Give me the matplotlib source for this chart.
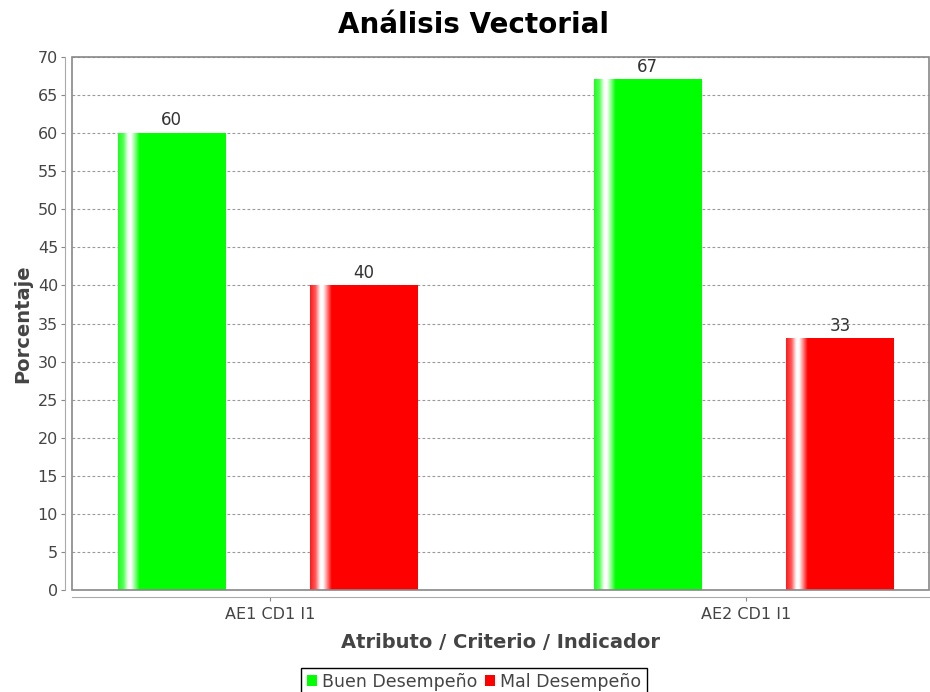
import matplotlib.pyplot as plt
import numpy as np
from matplotlib.patches import Rectangle, Patch

categories = ["AE1 CD1 I1", "AE2 CD1 I1"]
series = ["Buen Desempeño", "Mal Desempeño"]
buen = [60, 67]
mal = [40, 33]
colors = ["#00ff00", "#ff0000"]

plt.rcParams["font.family"] = "DejaVu Sans"
txt = "#444444"

fig = plt.figure(figsize=(9.3, 6.92), dpi=100)
ax = fig.add_axes([72 / 930, 1 - 590 / 692, 857 / 930, 533 / 692])

x = np.arange(len(categories))
width = 0.225
offsets = [-0.207, 0.197]

# horizontal highlight profile of the bars
t = np.linspace(0, 1, 300)
w = np.interp(t, [0, 0.05, 0.095, 0.12, 0.2, 1], [0.1, 0.35, 1, 1, 0, 0])

for vals, off, c in zip([buen, mal], offsets, colors):
    bars = ax.bar(x + off, vals, width, color=c, zorder=2)
    rgb = np.array(plt.matplotlib.colors.to_rgb(c))
    img = rgb[None, None, :] * (1 - w[None, :, None]) + w[None, :, None]
    for b, v in zip(bars, vals):
        x0 = b.get_x()
        ax.imshow(img, extent=(x0, x0 + width, 0, v), aspect="auto",
                  zorder=3, interpolation="bilinear")
        ax.text(x0 + width / 2, v + 0.5, str(v), ha="center", va="bottom",
                fontsize=12, color="#333333", zorder=4)

ax.set_xlim(-0.416, 1.384)
ax.set_ylim(0, 70)
ax.set_yticks(np.arange(0, 71, 5))
ax.set_xticks(x)
ax.set_xticklabels(categories)
ax.tick_params(axis="both", colors="#888888", labelcolor=txt, labelsize=11.5,
               length=3, width=0.8)
ax.tick_params(axis="x", pad=4)
ax.tick_params(axis="y", pad=2)
ax.yaxis.grid(True, linestyle=(0, (2.5, 2)), color="#999999", linewidth=0.8, zorder=1)

for s in ["left", "bottom"]:
    ax.spines[s].set_position(("outward", 5))
    ax.spines[s].set_color("#aaaaaa")
for s in ["top", "right"]:
    ax.spines[s].set_visible(False)
ax.add_patch(Rectangle((0, 0), 1, 1, transform=ax.transAxes, fill=False,
                       edgecolor="#888888", linewidth=1.2, zorder=5, clip_on=False))

ax.set_ylabel("Porcentaje", fontsize=14, fontweight="bold", color=txt, labelpad=4)
ax.set_xlabel("Atributo / Criterio / Indicador", fontsize=14, fontweight="bold",
              color=txt, labelpad=8)

fig.text(473 / 930, 1 - 25 / 692, "Análisis Vectorial", ha="center", va="center",
         fontsize=20, fontweight="bold", color="black")

handles = [Patch(facecolor=c, edgecolor="none") for c in colors]
leg = fig.legend(handles, series, loc="lower center", ncol=2,
                 bbox_to_anchor=(474 / 930, -0.006), fontsize=12.5,
                 fancybox=False, edgecolor="black", framealpha=1,
                 handlelength=0.6, handleheight=0.6, handletextpad=0.3,
                 columnspacing=0.4, borderpad=0.3, borderaxespad=0)
leg.get_frame().set_linewidth(1.0)
for tx in leg.get_texts():
    tx.set_color(txt)

fig.savefig("out.png", dpi=100)
